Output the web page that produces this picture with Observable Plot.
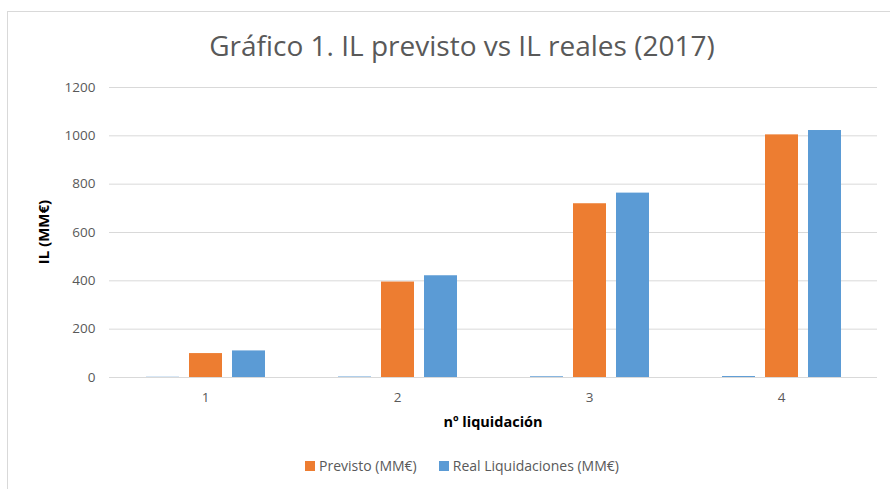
<!DOCTYPE html>
<html><head><meta charset="utf-8">
<script src="https://cdn.jsdelivr.net/npm/d3@7"></script>
<script src="https://cdn.jsdelivr.net/npm/@observablehq/plot@0.6"></script>
<style>
body{margin:0;background:#fff;font-family:"Open Sans",sans-serif;}
#wrap{position:relative;width:890px;height:489px;overflow:hidden;background:#fff;}
#frame{position:absolute;left:7px;top:11px;width:920px;height:500px;border:1px solid #d9d9d9;box-sizing:border-box;}
#title{position:absolute;left:0;width:924px;top:29px;text-align:center;font-size:28px;color:#595959;line-height:1.2;white-space:nowrap;}
.layer{position:absolute;left:0;top:0;}
#xtitle{position:absolute;left:109px;width:768px;top:413px;text-align:center;font-size:14.5px;font-weight:bold;color:#000;line-height:1.2;}
#ytitle{position:absolute;left:43px;top:232px;transform:translate(-50%,-50%) rotate(-90deg);font-size:15px;font-weight:bold;color:#000;white-space:nowrap;line-height:1.2;}
#legend{position:absolute;left:0;width:924px;top:458px;text-align:center;font-size:14px;color:#595959;line-height:1.2;white-space:nowrap;}
#legend span.item{margin:0 11px;}
#legend i{display:inline-block;width:10px;height:10px;margin-right:4px;vertical-align:0px;}
</style>
</head><body>
<div id="wrap">
  <div id="frame"></div>
  <div id="title"></div>
  <div id="bg" class="layer"></div>
  <div id="fg" class="layer"></div>
  <div id="xtitle"></div>
  <div id="ytitle"></div>
  <div id="legend"></div>
</div>
<script>
const titleText = "Gráfico 1. IL previsto vs IL reales (2017)";
const xTitle = "nº liquidación";
const yTitle = "IL (MM€)";
const categories = [1, 2, 3, 4];
const seriesNames = ["nº liquidación", "Previsto (MM€)", "Real Liquidaciones (MM€)"];
const liquidacion = [1, 2, 3, 4];
const previsto = [99, 395, 719, 1004];
const real = [110, 421, 763, 1022];
const yTicks = [0, 200, 400, 600, 800, 1000, 1200];
const seriesColors = ["#5B9BD5", "#ED7D31", "#5B9BD5"];
const legendSeries = ["Previsto (MM€)", "Real Liquidaciones (MM€)"];

const seriesValues = [liquidacion, previsto, real];
const data = [];
categories.forEach((c, i) => {
  seriesNames.forEach((s, j) => data.push({cat: c, series: s, value: seriesValues[j][i]}));
});

const W = 890, H = 489;
const margins = {marginLeft: 109, marginRight: 13, marginTop: 87, marginBottom: 112};
const fxOpts = {domain: categories, paddingInner: 0.33, paddingOuter: 0.165};
const font = "'Open Sans', sans-serif";

document.getElementById("title").textContent = titleText;
document.getElementById("xtitle").textContent = xTitle;
document.getElementById("ytitle").textContent = yTitle;

const bg = Plot.plot({
  width: W, height: H, ...margins,
  style: {fontFamily: font, fontSize: "13.5px", color: "#595959", background: "transparent"},
  x: {...fxOpts, label: null},
  y: {domain: [0, 1200], label: null},
  marks: [
    Plot.gridY(yTicks, {stroke: "#d9d9d9", strokeOpacity: 1}),
    Plot.axisY(yTicks, {tickSize: 0, tickPadding: 14, label: null, fill: "#595959", tickFormat: d => String(d)}),
    Plot.axisX(categories, {tickSize: 0, tickPadding: 15, label: null, fill: "#595959", tickFormat: d => String(d)})
  ]
});
document.getElementById("bg").appendChild(bg);

const fg = Plot.plot({
  width: W, height: H, ...margins,
  style: {background: "transparent"},
  fx: {...fxOpts, axis: null, label: null},
  x: {domain: seriesNames, paddingInner: 0.23, paddingOuter: 0.115, axis: null},
  y: {domain: [0, 1200], axis: null},
  color: {domain: seriesNames, range: seriesColors},
  marks: [
    Plot.barY(data, {fx: "cat", x: "series", y: "value", fill: "series", inset: 0}),
    Plot.ruleY([0], {stroke: "#d9d9d9"})
  ]
});
document.getElementById("fg").appendChild(fg);

const leg = document.getElementById("legend");
legendSeries.forEach(s => {
  const item = document.createElement("span");
  item.className = "item";
  const sw = document.createElement("i");
  sw.style.background = seriesColors[seriesNames.indexOf(s)];
  item.appendChild(sw);
  item.appendChild(document.createTextNode(s));
  leg.appendChild(item);
});
</script>
</body></html>
